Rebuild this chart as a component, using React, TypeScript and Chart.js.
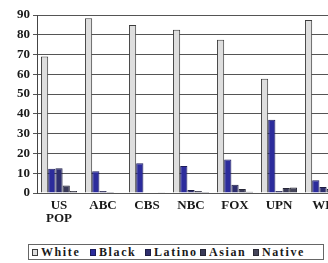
import React, { useEffect, useRef } from "react";
import { Chart, registerables } from "chart.js";

Chart.register(...registerables);

const categories: (string | string[])[] = [["US", "POP"], "ABC", "CBS", "NBC", "FOX", "UPN", "WB"];
const white = [69, 88.4, 85, 82.5, 77.5, 57.8, 87.5];
const black = [12.3, 11, 15, 13.6, 17, 37, 6.5];
const latino = [12.5, 1, 0.3, 1.5, 4.2, 1, 3];
const asian = [3.8, 0.5, 0.2, 1, 2, 2.5, 2];
const native = [1, 0.3, 0.1, 0.5, 0.6, 2.8, 1];
const seriesNames = ["White", "Black", "Latino", "Asian", "Native"];
const yTicks = [0, 10, 20, 30, 40, 50, 60, 70, 80, 90];

const fills = ["#dedede", "#2c2c9c", "#2e2e6e", "#3a3a58", "#45455a"];
const borders = ["#3c3c3c", "#1c1c5c", "#1e1e44", "#262636", "#2a2a36"];
const legendX = [32, 90, 145, 200, 253];

const FONT = "'Liberation Serif', 'Times New Roman', 'DejaVu Serif', serif";

export default function App() {
  const ref = useRef<HTMLCanvasElement | null>(null);
  useEffect(() => {
    if (!ref.current) return;
    const series = [white, black, latino, asian, native];
    const chart = new Chart(ref.current, {
      type: "bar",
      data: {
        labels: categories,
        datasets: series.map((d, i) => ({
          label: seriesNames[i],
          data: d,
          backgroundColor: fills[i],
          borderColor: borders[i],
          borderWidth: 1,
          categoryPercentage: 0.82,
          barPercentage: 1,
        })),
      },
      options: {
        responsive: false,
        animation: false,
        devicePixelRatio: 1,
        layout: { padding: { top: 15, right: 0, left: 0, bottom: 0 } },
        plugins: { legend: { display: false }, tooltip: { enabled: false } },
        scales: {
          x: {
            grid: { display: false, drawTicks: false },
            border: { display: false },
            ticks: {
              color: "#1a1a1a",
              font: { family: FONT, size: 13, weight: "bold", lineHeight: 1.0 },
              padding: 6,
              maxRotation: 0,
              autoSkip: false,
            },
            afterFit: (s: any) => {
              s.height = 39;
            },
          },
          y: {
            min: 0,
            max: 90,
            afterBuildTicks: (s: any) => {
              s.ticks = yTicks.map((v) => ({ value: v }));
            },
            grid: { color: "#555", lineWidth: 1, tickLength: 4, drawTicks: true },
            border: { display: true, color: "#444", width: 1 },
            ticks: {
              color: "#1a1a1a",
              font: { family: FONT, size: 13, weight: "bold" },
              padding: 3,
            },
            afterFit: (s: any) => {
              s.width = 37;
            },
          },
        },
      },
    });
    return () => chart.destroy();
  }, []);

  return (
    <div
      style={{
        position: "fixed",
        left: 0,
        top: 0,
        width: 328,
        height: 263,
        overflow: "hidden",
        background: "#fff",
      }}
    >
      <canvas ref={ref} width={345} height={232} style={{ display: "block" }} />
      <div
        style={{
          position: "absolute",
          left: 28,
          top: 244,
          width: 294,
          height: 14,
          border: "1px solid #666",
        }}
      />
      {seriesNames.map((n, i) => (
        <div
          key={n}
          style={{
            position: "absolute",
            left: legendX[i],
            top: 245,
            height: 14,
            display: "flex",
            alignItems: "center",
            fontFamily: FONT,
            fontWeight: "bold",
            fontSize: 12,
            letterSpacing: 1.6,
            color: "#1a1a1a",
            whiteSpace: "nowrap",
          }}
        >
          <span
            style={{
              display: "inline-block",
              width: 4,
              height: 5,
              background: fills[i],
              border: `1px solid ${borders[i]}`,
              marginRight: 3,
            }}
          />
          {n}
        </div>
      ))}
    </div>
  );
}
